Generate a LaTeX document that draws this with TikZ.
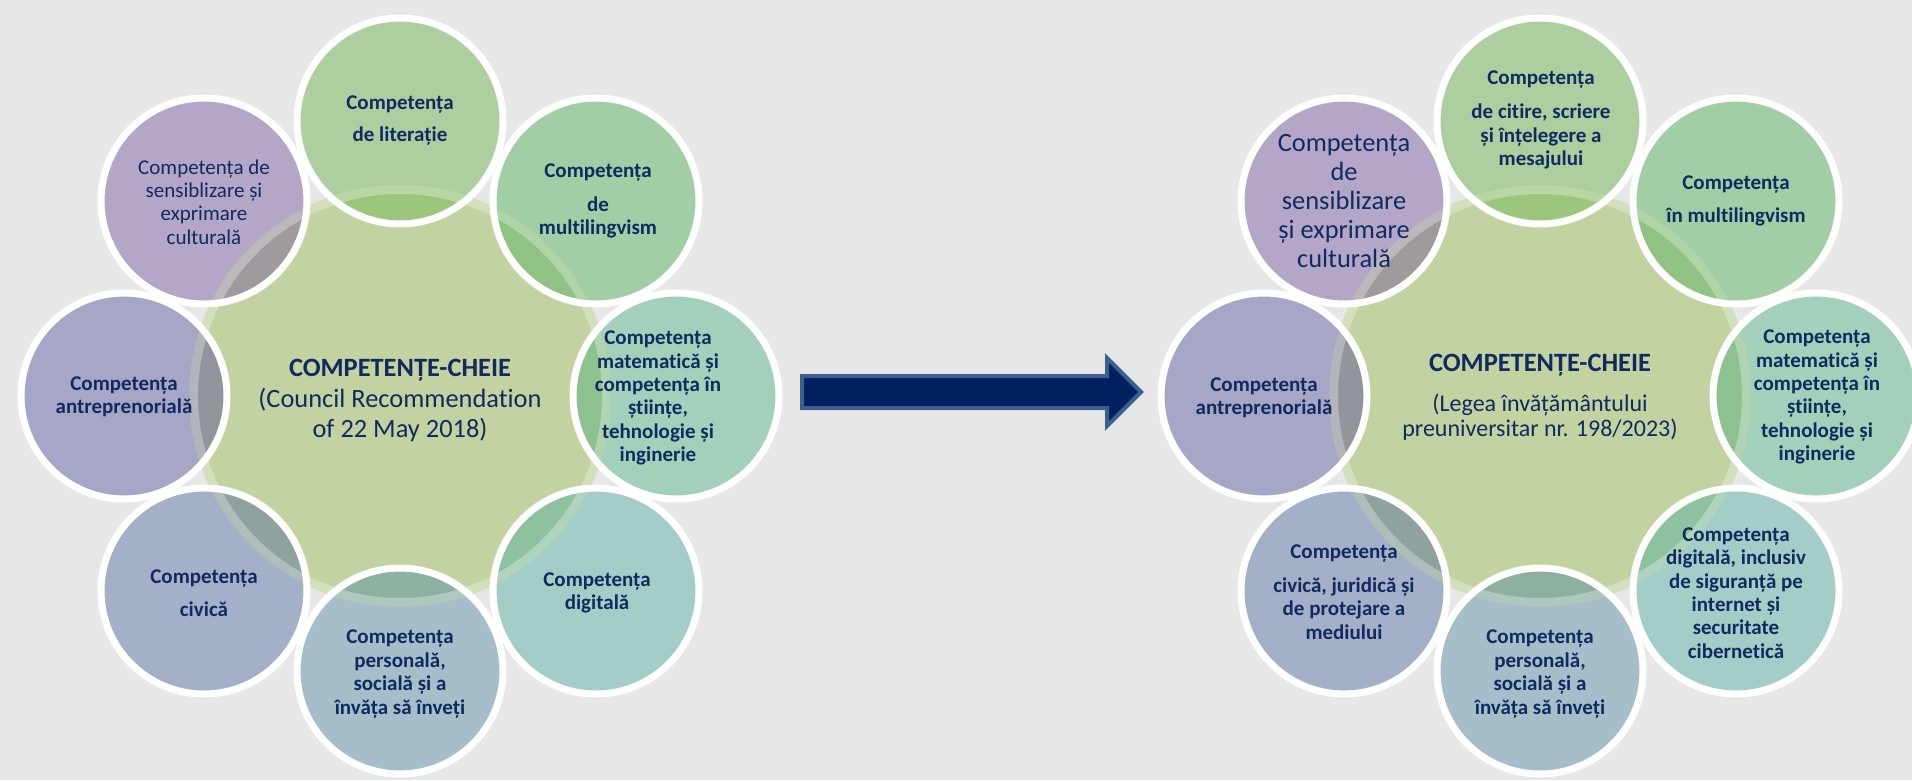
\documentclass[tikz,border=0pt]{standalone}
\usepackage{fontspec}
\setmainfont{Carlito}[Ligatures=NoCommon]
\usetikzlibrary{positioning}

\definecolor{bg}{HTML}{E7E7E7}
\definecolor{core}{HTML}{C2D2A0}
\definecolor{ink}{HTML}{112A5F}
\definecolor{arrowfill}{HTML}{002060}
\definecolor{arrowedge}{HTML}{3B5F8F}
\definecolor{litc}{HTML}{ADCFA0}  \definecolor{litd}{HTML}{9CC67C}
\definecolor{multc}{HTML}{A2CEA5} \definecolor{multd}{HTML}{8FC283}
\definecolor{matc}{HTML}{A3D0BA}  \definecolor{matd}{HTML}{8EC190}
\definecolor{digc}{HTML}{A3CDC6}  \definecolor{digd}{HTML}{8DC1A0}
\definecolor{persc}{HTML}{A5BECA} \definecolor{persd}{HTML}{8DB0A0}
\definecolor{civc}{HTML}{A3B0C8}  \definecolor{civd}{HTML}{8FA29F}
\definecolor{antc}{HTML}{A6A6C6}  \definecolor{antd}{HTML}{92959C}
\definecolor{culc}{HTML}{B4A6C7}  \definecolor{culd}{HTML}{A09A9F}

\tikzset{
  satbold/.style={text=ink, align=center, inner sep=0pt, font=\fontsize{21}{23.4}\selectfont\bfseries},
  satthin/.style={text=ink, align=center, inner sep=0pt, font=\fontsize{21}{23.3}\selectfont},
  satlarge/.style={text=ink, align=center, inner sep=0pt, font=\fontsize{26.4}{29}\selectfont},
  coretitle/.style={text=ink, align=center, inner sep=0pt, font=\fontsize{26.4}{30}\selectfont\bfseries},
  coresub/.style={text=ink, align=center, inner sep=0pt, font=\fontsize{26.4}{30}\selectfont},
  coresmall/.style={text=ink, align=center, inner sep=0pt, font=\fontsize{24}{25}\selectfont},
  bigarrow/.style={fill=arrowfill, draw=arrowedge, line width=4pt, line join=miter}
}

\begin{document}
\begin{tikzpicture}[x=1pt, y=-1pt]
    \useasboundingbox (0,0) rectangle (1912,780);
    \fill [bg] (0,0) rectangle (1912,780);
    \clip (0,0) rectangle (1912,780);

    % two wheels of competences
    \foreach \cx in {400,1540} {
        \fill [core] (\cx,396) circle (211pt);
        \foreach \dx/\dy/\col in {0/-275/lit, 196/-195/mult, 276/0/mat, 196/195/dig,
                                  0/275/pers, -196/195/civ, -276/0/ant, -196/-195/cul}
            \fill [\col c] ({\cx+\dx},{396+\dy}) circle (103pt);
        \begin{scope}
            \clip (\cx,396) circle (211pt);
            \foreach \dx/\dy/\col in {0/-275/lit, 196/-195/mult, 276/0/mat, 196/195/dig,
                                      0/275/pers, -196/195/civ, -276/0/ant, -196/-195/cul}
                \fill [\col d] ({\cx+\dx},{396+\dy}) circle (103pt);
        \end{scope}
        \draw [white, opacity=.3, line width=9pt] (\cx,396) circle (206.5pt);
        \foreach \dx/\dy in {0/-275, 196/-195, 276/0, 196/195, 0/275, -196/195, -276/0, -196/-195}
            \draw [white, line width=7pt] ({\cx+\dx},{396+\dy}) circle (103pt);
    }

    % Council Recommendation 2018
    \node [coretitle] (core1) at (400,370) {COMPETENȚE-CHEIE};
    \node [coresub] (sub1) at (400,415) {(Council Recommendation\\of 22 May 2018)};
    \node [satbold] (lit1) at (400,121) {Competența\\[8.6pt]de literație};
    \node [satbold] (multi1) at (598,201) {Competența\\[10pt]de\\multilingvism};
    \node [satbold] (mate1) at (658,398) {Competența\\matematică și\\competența în\\științe,\\tehnologie și\\inginerie};
    \node [satbold] (digi1) at (597,593) {Competența\\digitală};
    \node [satbold] (pers1) at (400,674) {Competența\\personală,\\socială și a\\învăța să înveți};
    \node [satbold] (civ1) at (204,593) {Competența\\[10pt]civică};
    \node [satbold] (antre1) at (124,397) {Competența\\antreprenorială};
    \node [satthin] (cult1) at (204,202) {Competența de\\sensiblizare și\\exprimare\\culturală};

    % Legea 198/2023
    \node [coretitle] (core2) at (1540,365) {COMPETENȚE-CHEIE};
    \node [coresmall] (sub2) at (1540,417) {(Legea învățământului\\preuniversitar nr. 198/2023)};
    \node [satbold] (lit2) at (1541,120) {Competența\\[10.6pt]de citire, scriere\\și înțelegere a\\mesajului};
    \node [satbold] (multi2) at (1736,201) {Competența\\[10pt]în multilingvism};
    \node [satbold] (mate2) at (1817,397) {Competența\\matematică și\\competența în\\științe,\\tehnologie și\\inginerie};
    \node [satbold] (digi2) at (1736,593) {Competența\\digitală, inclusiv\\de siguranță pe\\internet și\\securitate\\cibernetică};
    \node [satbold] (pers2) at (1540,674) {Competența\\personală,\\socială și a\\învăța să înveți};
    \node [satbold] (civ2) at (1344,592) {Competența\\[10.6pt]civică, juridică și\\de protejare a\\mediului};
    \node [satbold] (antre2) at (1264,398) {Competența\\antreprenorială};
    \node [satlarge] (cult2) at (1344,201) {Competența\\de\\sensiblizare\\și exprimare\\culturală};

    % arrow between the two
    \coordinate (from) at (802,392);
    \coordinate (to) at (1141,392);
    \draw [bigarrow] (from) ++(0,-16) -- ++(305,0) -- ++(0,-18) -- (to)
        -- ++(-34,34) -- ++(0,-18) -- ++(-305,0) -- cycle;
\end{tikzpicture}
\end{document}
